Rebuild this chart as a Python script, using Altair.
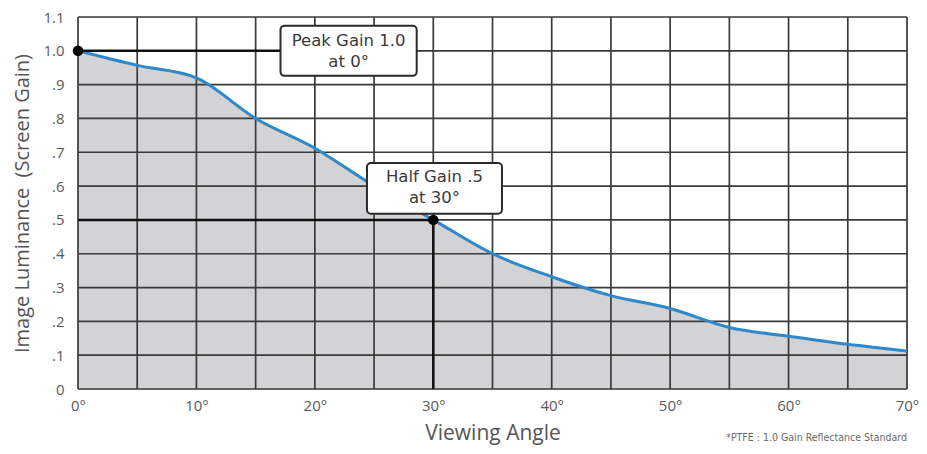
import altair as alt
import pandas as pd

# Curve data
angles = [0, 5, 10, 15, 20, 25, 30, 35, 40, 45, 50, 55, 60, 65, 70]
gains = [1.0, 0.957, 0.92, 0.80, 0.712, 0.600, 0.50, 0.40, 0.332, 0.276, 0.238, 0.182, 0.156, 0.132, 0.112]

x_ticks = [0, 5, 10, 15, 20, 25, 30, 35, 40, 45, 50, 55, 60, 65, 70]
y_ticks = [0.0, 0.1, 0.2, 0.3, 0.4, 0.5, 0.6, 0.7, 0.8, 0.9, 1.0, 1.1]

# Marked points
pt_x = [0, 30]
pt_y = [1.0, 0.5]

# Reference lines (x, x2, y, y2)
ref_x = [0, 0, 30]
ref_x2 = [17.1, 30, 30]
ref_y = [1.0, 0.5, 0.0]
ref_y2 = [1.0, 0.5, 0.5]

# Annotation boxes
box_x = [17.1, 24.4]
box_x2 = [28.6, 35.8]
box_y = [1.074, 0.668]
box_y2 = [0.926, 0.518]
box_text = ["Peak Gain 1.0\nat 0°", "Half Gain .5\nat 30°"]
box_tx = [22.85, 30.1]
box_ty = [1.030, 0.627]

foot_text = ["*PTFE :  1.0 Gain Reflectance Standard"]
foot_x = [70]
foot_y = [-0.155]

curve = pd.DataFrame({"angle": angles, "gain": gains})
pts = pd.DataFrame({"x": pt_x, "y": pt_y})
refs = pd.DataFrame({"x": ref_x, "x2": ref_x2, "y": ref_y, "y2": ref_y2})
boxes = pd.DataFrame({"x": box_x, "x2": box_x2, "y": box_y, "y2": box_y2,
                      "t": box_text, "tx": box_tx, "ty": box_ty})
foot = pd.DataFrame({"t": foot_text, "x": foot_x, "y": foot_y})
xgrid = pd.DataFrame({"v": x_ticks})
ygrid = pd.DataFrame({"v": y_ticks})

FONT = "Open Sans"
GRID = "#3a3a3a"
xs = alt.Scale(domain=[0, 70], nice=False, zero=False)
ys = alt.Scale(domain=[0, 1.1], nice=False)

x_axis = alt.Axis(
    values=x_ticks, title="Viewing Angle",
    labelExpr="datum.value % 10 == 0 ? datum.value + '°' : ''",
    ticks=False, domain=False, grid=False,
    labelFont=FONT, labelFontSize=15, labelColor="#5a5a5a", labelPadding=9,
    titleFont=FONT, titleFontSize=21, titleFontWeight="normal", titleColor="#555555",
    titlePadding=9, labelOverlap=False, labelBound=False, labelFlush=False,
)
y_axis = alt.Axis(
    values=y_ticks, title="Image Luminance\u00a0 (Screen Gain)",
    labelExpr="datum.value < 0.05 ? '0' : (datum.value >= 0.99 ? format(datum.value, '.1f') : replace(format(datum.value, '.1f'), '0.', '.'))",
    ticks=False, domain=False, grid=False,
    labelFont=FONT, labelFontSize=15, labelColor="#5a5a5a", labelPadding=14,
    titleFont=FONT, titleFontSize=20, titleFontWeight="normal", titleColor="#555555",
    titlePadding=10, labelOverlap=False, labelBound=False, labelFlush=False,
)

area = alt.Chart(curve).mark_area(color="#d1d3d5", interpolate="monotone").encode(
    x=alt.X("angle:Q", scale=xs, axis=x_axis),
    y=alt.Y("gain:Q", scale=ys, axis=y_axis),
)

vgrid = alt.Chart(xgrid).mark_rule(color=GRID, strokeWidth=1.7).encode(
    x=alt.X("v:Q", scale=xs, axis=x_axis),
)
hgrid = alt.Chart(ygrid).mark_rule(color=GRID, strokeWidth=1.7).encode(
    y=alt.Y("v:Q", scale=ys, axis=y_axis),
)

line = alt.Chart(curve).mark_line(color="#2f88cc", strokeWidth=3, interpolate="monotone").encode(
    x=alt.X("angle:Q", scale=xs, axis=x_axis),
    y=alt.Y("gain:Q", scale=ys, axis=y_axis),
)

rules = alt.Chart(refs).mark_rule(color="#111111", strokeWidth=2.5).encode(
    x=alt.X("x:Q", scale=xs, axis=x_axis), x2="x2:Q",
    y=alt.Y("y:Q", scale=ys, axis=y_axis), y2="y2:Q",
)

dots = alt.Chart(pts).mark_circle(color="#000000", size=110, opacity=1).encode(
    x=alt.X("x:Q", scale=xs, axis=x_axis), y=alt.Y("y:Q", scale=ys, axis=y_axis),
)

rects = alt.Chart(boxes).mark_rect(fill="white", stroke="#2a2a2a", strokeWidth=2,
                                   cornerRadius=4).encode(
    x=alt.X("x:Q", scale=xs, axis=x_axis), x2="x2:Q",
    y=alt.Y("y:Q", scale=ys, axis=y_axis), y2="y2:Q",
)

texts = alt.Chart(boxes).mark_text(font="'DejaVu Sans', sans-serif", fontSize=16.5,
                                   color="#3a3a3a",
                                   lineBreak="\n", align="center", baseline="middle",
                                   lineHeight=21).encode(
    x=alt.X("tx:Q", scale=xs, axis=x_axis), y=alt.Y("ty:Q", scale=ys, axis=y_axis), text="t:N",
)

foot_mark = alt.Chart(foot).mark_text(
    font="'DejaVu Sans Condensed', 'Liberation Sans Narrow', 'Roboto Condensed', sans-serif",
    fontSize=10.5, color="#6a6a6a", align="right", baseline="alphabetic").encode(
    x=alt.X("x:Q", scale=xs, axis=x_axis), y=alt.Y("y:Q", scale=ys, axis=y_axis), text="t:N",
)

chart = alt.layer(area, vgrid, hgrid, line, rules, dots, rects, texts, foot_mark).properties(
    width=829, height=372,
    autosize=alt.AutoSizeParams(type="none"),
    padding={"left": 70, "top": 9, "right": 12, "bottom": 57},
).configure_view(stroke="#333333", strokeWidth=2).configure_axis(
    labelOverlap=False
).configure(background="white")

chart.save("out.html", embed_options={"renderer": "svg", "actions": False})
